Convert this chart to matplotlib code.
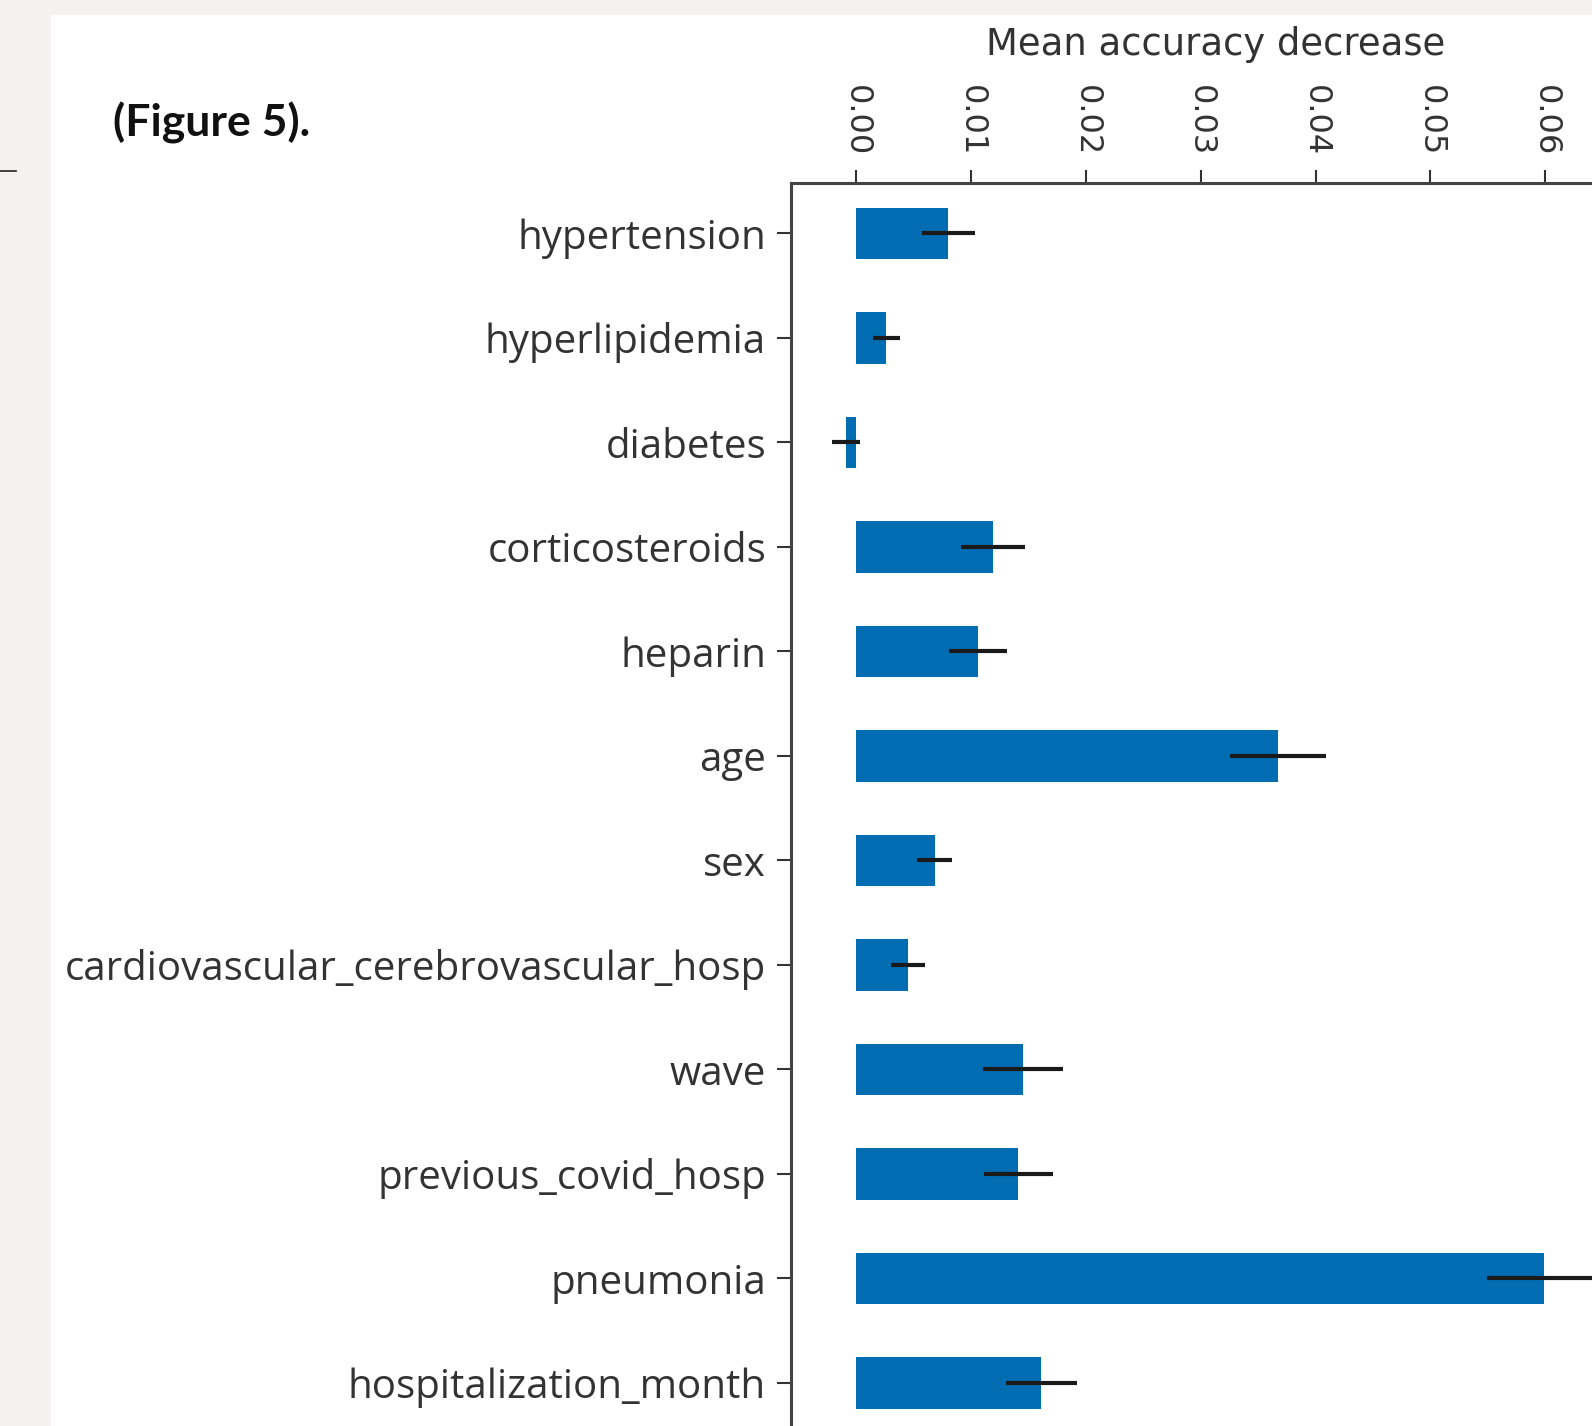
import matplotlib
matplotlib.use("Agg")
import matplotlib.pyplot as plt
from matplotlib.patches import Rectangle
from matplotlib.lines import Line2D

features = ["hypertension", "hyperlipidemia", "diabetes", "corticosteroids",
            "heparin", "age", "sex", "cardiovascular_cerebrovascular_hosp",
            "wave", "previous_covid_hosp", "pneumonia", "hospitalization_month"]
importances = [0.0080, 0.0026, -0.0009, 0.0119, 0.0106, 0.0367, 0.0068,
               0.0045, 0.0145, 0.0141, 0.0599, 0.0161]
errors = [0.0023, 0.0012, 0.0012, 0.0028, 0.0025, 0.0042, 0.0015,
          0.0015, 0.0035, 0.0030, 0.0050, 0.0031]
xticks = [0.00, 0.01, 0.02, 0.03, 0.04, 0.05, 0.06]
xticklabels = ["0.00", "0.01", "0.02", "0.03", "0.04", "0.05", "0.06"]

W, H = 1592, 1426
fig = plt.figure(figsize=(W / 100, H / 100), dpi=100)
fig.patch.set_facecolor("#f4f1f0")

# white page panel
fig.patches.append(Rectangle((51 / W, 0), 1 - 51 / W, 1 - 15 / H,
                             transform=fig.transFigure, facecolor="white",
                             edgecolor="none", zorder=-10))
# small dash at left margin
fig.lines.append(Line2D([0, 16 / W], [1 - 171 / H, 1 - 171 / H],
                        transform=fig.transFigure, color="#222222", lw=1.2))

fig.text(113 / W, 1 - 123 / H, "(Figure 5).", fontsize=32, fontweight="bold",
         family=["Lato", "DejaVu Sans"], ha="left", va="center", color="#111111")

# axes geometry (axes extend beyond the cropped figure to the right/bottom)
x_left, x_right = -0.0057, 0.075
px_per_unit = 11480.0
ax_left_px = 791
ax_w_px = (x_right - x_left) * px_per_unit
y_top, y_bot = -0.483, 11.7
px_per_cat = 104.5
ax_top_px = 183
ax_h_px = (y_bot - y_top) * px_per_cat

ax = fig.add_axes([ax_left_px / W, 1 - (ax_top_px + ax_h_px) / H,
                   ax_w_px / W, ax_h_px / H])
ax.set_facecolor("none")
ax.set_zorder(5)

ypos = list(range(len(features)))
ax.barh(ypos, importances, height=0.49, color="#006CB2", zorder=2)
ax.errorbar(importances, ypos, xerr=errors, fmt="none", ecolor="#1a1a1a",
            elinewidth=3.0, capsize=0, zorder=3)

ax.set_xlim(x_left, x_right)
ax.set_ylim(y_bot, y_top)

ax.set_yticks(ypos)
ax.set_yticklabels(features, family=["Open Sans", "DejaVu Sans"], fontsize=29,
                   color="#333333")
ax.set_xticks(xticks)
ax.set_xticklabels(xticklabels, rotation=270, fontsize=23, color="#333333",
                   family="DejaVu Sans")

ax.xaxis.tick_top()
ax.xaxis.set_label_position("top")
ax.set_xlabel("Mean accuracy decrease", fontsize=26.6, color="#333333",
              family="DejaVu Sans")
ax.xaxis.set_label_coords((1216 - ax_left_px) / ax_w_px,
                          1 + (ax_top_px - 45) / ax_h_px)
ax.xaxis.label.set_va("center")
ax.xaxis.label.set_ha("center")

ax.tick_params(axis="y", length=10, width=1.5, color="#333333", pad=8)
ax.tick_params(axis="x", length=9.5, width=1.5, color="#333333", pad=10)

for side in ["right", "bottom"]:
    ax.spines[side].set_visible(False)
for side in ["left", "top"]:
    ax.spines[side].set_linewidth(2.2)
    ax.spines[side].set_color("#444444")

fig.savefig("out.png", dpi=100, facecolor=fig.get_facecolor())
